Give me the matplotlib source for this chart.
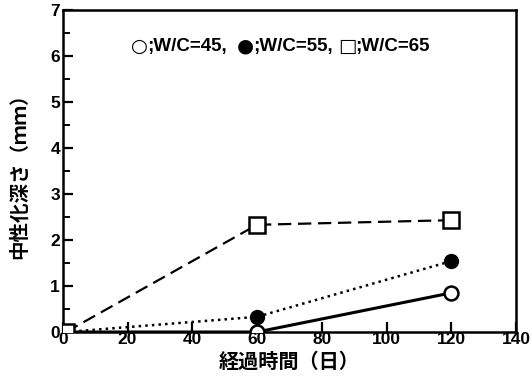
import matplotlib.pyplot as plt
import numpy as np

plt.rcParams['font.family'] = ['Liberation Sans', 'DejaVu Sans', 'Noto Sans CJK JP']
plt.rcParams['font.weight'] = 'bold'

# data
days = [1, 60, 120]
wc45 = [0, 0, 0.85]
wc55 = [0, 0.33, 1.54]
wc65 = [0, 2.33, 2.43]

fig = plt.figure(figsize=(5.32, 3.79), dpi=100)
ax = fig.add_axes([0.118, 0.124, 0.852, 0.850])

ax.plot(days, wc45, '-', color='black', lw=2.2, marker='o', ms=10,
        mfc='white', mec='black', mew=1.8, zorder=3)
ax.plot(days, wc55, ':', color='black', lw=1.8, marker='o', ms=10,
        mfc='black', mec='black', zorder=3)
ax.plot(days, wc65, '--', color='black', lw=1.6, dashes=(6, 3), marker='s', ms=11,
        mfc='white', mec='black', mew=1.8, zorder=4)

ax.set_xlim(0, 140)
ax.set_ylim(0, 7)
ax.set_xticks(np.arange(0, 141, 20))
ax.set_yticks(np.arange(0, 8, 1))
ax.set_yticks(np.arange(0, 7, 0.5), minor=True)
ax.tick_params(direction='in', length=7, width=1.6, labelsize=12.5)
ax.tick_params(which='minor', direction='in', length=5, width=1.4)
ax.tick_params(axis='x', pad=0)
ax.tick_params(axis='y', pad=2)
for s in ax.spines.values():
    s.set_linewidth(1.8)

# legend written as text: symbols and labels
legend_items = [('○', ';W/C=45,'), ('●', ';W/C=55,'), ('□', ';W/C=65')]
sym_x = [0.170, 0.403, 0.629]
for (sym, lab), x in zip(legend_items, sym_x):
    ax.text(x, 0.887, sym, transform=ax.transAxes, ha='center', va='center',
            fontsize=14, family=['DejaVu Sans'])
    ax.text(x + 0.016, 0.885, lab, transform=ax.transAxes, ha='left', va='center',
            fontsize=13.5, fontweight='bold')

ax.set_xlabel('経過時間（日）', family=['Noto Sans CJK JP'], fontsize=14.5,
              fontweight='bold', labelpad=3)
ax.set_ylabel('中性化深さ（ｍｍ）', family=['Noto Sans CJK JP'], fontsize=14,
              fontweight='bold', labelpad=15)

fig.savefig('out.png', dpi=100)
